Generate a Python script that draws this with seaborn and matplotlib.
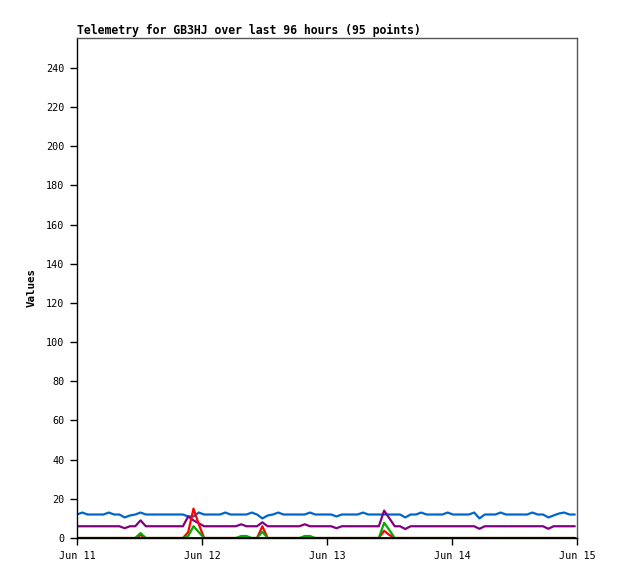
import pandas as pd
import seaborn as sns
import matplotlib.pyplot as plt
import matplotlib.dates as mdates

# Telemetry readings, 95 points, roughly hourly from Jun 11
start_time = "2024-06-11 00:00"
n_points = 95

ch_blue = [12, 13, 12, 12, 12, 12, 13, 12, 12, 10.5, 11.5, 12, 13, 12, 12, 12, 12, 12, 12, 12,
           12, 11, 11, 13, 12, 12, 12, 12, 13, 12, 12, 12, 12, 13, 12, 10, 11.5, 12, 13, 12,
           12, 12, 12, 12, 13, 12, 12, 12, 12, 11, 12, 12, 12, 12, 13, 12, 12, 12, 12, 12,
           12, 12, 10.5, 12, 12, 13, 12, 12, 12, 12, 13, 12, 12, 12, 12, 13, 10, 12, 12, 12,
           13, 12, 12, 12, 12, 12, 13, 12, 12, 10.5, 11.5, 12.5, 13, 12, 12]
ch_purple = [6, 6, 6, 6, 6, 6, 6, 6, 6, 5, 6, 6, 9, 6, 6, 6, 6, 6, 6, 6,
             6, 11, 9, 7.5, 6, 6, 6, 6, 6, 6, 6, 7, 6, 6, 6, 8, 6, 6, 6, 6,
             6, 6, 6, 7, 6, 6, 6, 6, 6, 5, 6, 6, 6, 6, 6, 6, 6, 6, 14, 10,
             6, 6, 4.6, 6, 6, 6, 6, 6, 6, 6, 6, 6, 6, 6, 6, 6, 4.7, 6, 6, 6,
             6, 6, 6, 6, 6, 6, 6, 6, 6, 4.7, 6, 6, 6, 6, 6]
ch_red = [0, 0, 0, 0, 0, 0, 0, 0, 0, 0, 0, 0, 1.5, 0, 0, 0, 0, 0, 0, 0,
          0, 3, 15, 7, 0, 0, 0, 0, 0, 0, 0, 0, 0, 0, 0, 6, 0, 0, 0, 0,
          0, 0, 0, 0, 0, 0, 0, 0, 0, 0, 0, 0, 0, 0, 0, 0, 0, 0, 3.7, 1.5,
          0, 0, 0, 0, 0, 0, 0, 0, 0, 0, 0, 0, 0, 0, 0, 0, 0, 0, 0, 0,
          0, 0, 0, 0, 0, 0, 0, 0, 0, 0, 0, 0, 0, 0, 0]
ch_green = [0, 0, 0, 0, 0, 0, 0, 0, 0, 0, 0, 0, 2.5, 0, 0, 0, 0, 0, 0, 0,
            0, 1, 6, 3, 0, 0, 0, 0, 0, 0, 0, 1, 1, 0, 0, 3.2, 0, 0, 0, 0,
            0, 0, 0, 1, 1, 0, 0, 0, 0, 0, 0, 0, 0, 0, 0, 0, 0, 0, 7.8, 4,
            0, 0, 0, 0, 0, 0, 0, 0, 0, 0, 0, 0, 0, 0, 0, 0, 0, 0, 0, 0,
            0, 0, 0, 0, 0, 0, 0, 0, 0, 0, 0, 0, 0, 0, 0]
ch_black = [0] * n_points

series_colors = {"blue": "#0066cc", "purple": "#800080", "red": "#ff0000",
                 "green": "#00aa00", "black": "#000000"}

times = pd.date_range(start_time, periods=n_points, freq="61min")
data = pd.DataFrame({"time": times, "blue": ch_blue, "purple": ch_purple,
                     "red": ch_red, "green": ch_green, "black": ch_black})

sns.set_style("ticks")
plt.rcParams["font.family"] = ["DejaVu Sans Mono"]
plt.rcParams["text.color"] = "black"
plt.rcParams["axes.labelcolor"] = "black"
plt.rcParams["xtick.color"] = "black"
plt.rcParams["ytick.color"] = "black"

fig = plt.figure(figsize=(6.18, 5.79), dpi=100)
ax = fig.add_axes([0.1246, 0.0708, 0.8091, 0.8636])

for name in ["blue", "purple", "red", "green", "black"]:
    lw = 2.0 if name == "black" else 1.6
    sns.lineplot(data=data, x="time", y=name, color=series_colors[name], linewidth=lw, ax=ax)

ax.set_xlim(pd.Timestamp("2024-06-11"), pd.Timestamp("2024-06-15"))
ax.set_ylim(0, 255.3)
ax.set_yticks(range(0, 241, 20))
ax.xaxis.set_major_locator(mdates.DayLocator())
ax.xaxis.set_major_formatter(mdates.DateFormatter("%b %d"))

ax.tick_params(axis="both", labelsize=7.3, length=5, width=1, color="black",
               labelcolor="black", pad=4)
ax.set_xlabel("")
ax.set_ylabel("Values", fontsize=7.8, fontweight="bold", labelpad=7, color="black")
ax.set_title("Telemetry for GB3HJ over last 96 hours (95 points)", loc="left",
             fontsize=8.3, fontweight="bold", pad=3, color="black")

for side in ["left", "bottom"]:
    ax.spines[side].set_color("black")
    ax.spines[side].set_linewidth(1)
for side in ["top", "right"]:
    ax.spines[side].set_visible(True)
    ax.spines[side].set_color("#555555")
    ax.spines[side].set_linewidth(1)

fig.savefig("out.png", dpi=100)
